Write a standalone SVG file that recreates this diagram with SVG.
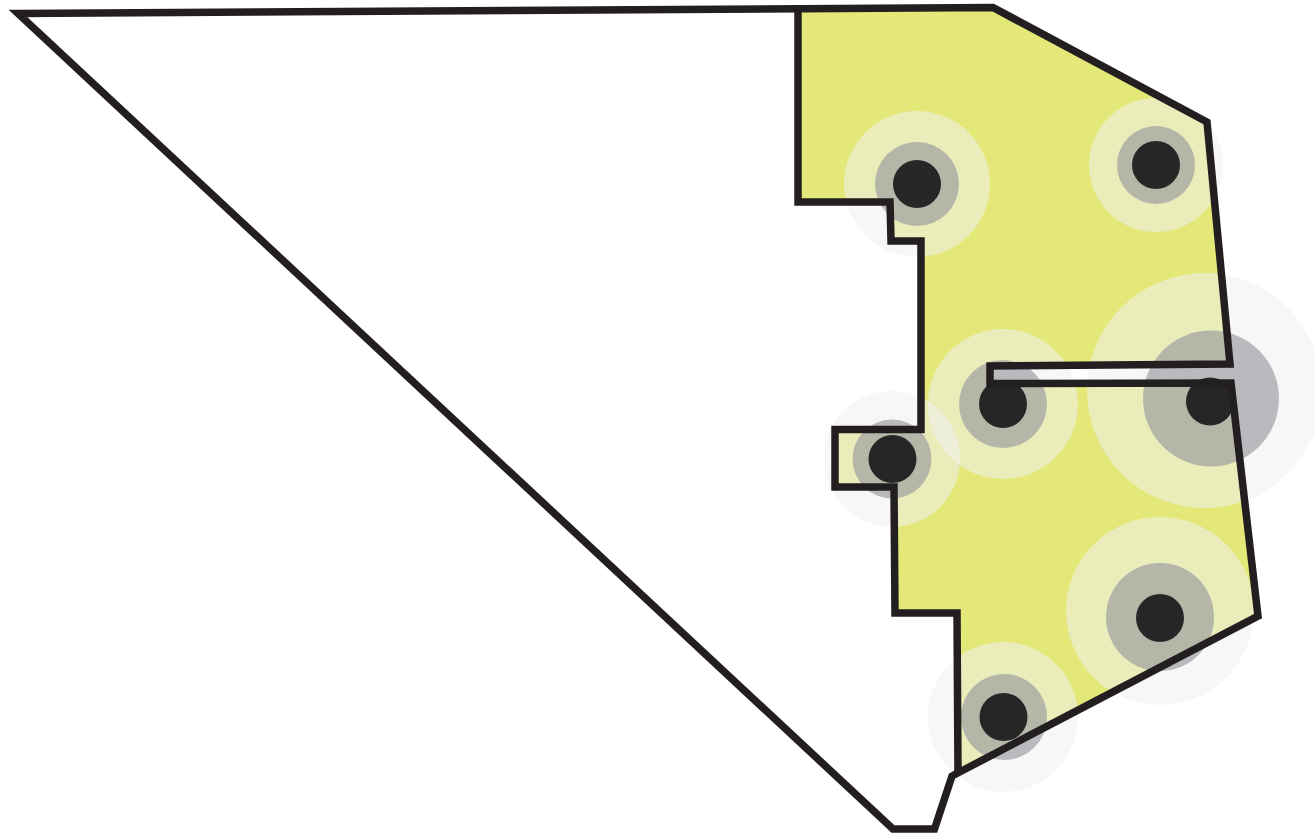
<svg xmlns="http://www.w3.org/2000/svg" width="1315" height="835" viewBox="0 0 1315 835">
  <style>
    .zone { fill: #e3e878; stroke: none; }
    .halo { fill: #f0f0f0; fill-opacity: 0.55; }
    .ring { fill: #999b9f; fill-opacity: 0.67; }
    .dot { fill: #262626; }
    .line { fill: none; stroke: #231f20; stroke-width: 7.5; stroke-linejoin: miter; stroke-miterlimit: 10; }
  </style>
  <rect x="0" y="0" width="1315" height="835" fill="#ffffff"/>
  <g id="yellow-zone">
    <polygon class="zone" points="798,9 993,7.5 1207,122 1230,364 990,366 990,383.5 1231,383 1258,616 958,772 957,613 895,613 894,487 835,487 835,429.5 921,429.5 921,241 891,241 890,202 798,202"/>
  </g>
  <g id="halos">
    <circle class="halo" cx="917" cy="184" r="73"/>
    <circle class="halo" cx="1156" cy="165" r="67"/>
    <circle class="halo" cx="1003" cy="404" r="75"/>
    <circle class="halo" cx="1204.5" cy="390.5" r="117.5"/>
    <circle class="halo" cx="892" cy="459" r="68"/>
    <circle class="halo" cx="1160" cy="611" r="94"/>
    <circle class="halo" cx="1003" cy="717" r="75"/>
  </g>
  <g id="rings">
    <circle class="ring" cx="917" cy="184" r="42"/>
    <circle class="ring" cx="1156" cy="165" r="39"/>
    <circle class="ring" cx="1003" cy="404" r="44"/>
    <circle class="ring" cx="1211" cy="398.5" r="68"/>
    <circle class="ring" cx="892" cy="459" r="39.5"/>
    <circle class="ring" cx="1160" cy="617" r="54"/>
    <circle class="ring" cx="1004" cy="717" r="43"/>
  </g>
  <g id="dots">
    <circle class="dot" cx="917" cy="184" r="24"/>
    <circle class="dot" cx="1156" cy="165" r="24"/>
    <circle class="dot" cx="1003" cy="404" r="24"/>
    <circle class="dot" cx="1210" cy="401.5" r="24"/>
    <circle class="dot" cx="892.5" cy="459" r="24"/>
    <circle class="dot" cx="1160" cy="618" r="24"/>
    <circle class="dot" cx="1003.5" cy="717" r="24"/>
  </g>
  <g id="outlines">
    <polygon class="line" points="18,13.5 993,7.5 1207,122 1230,364 990,366 990,383.5 1231,383 1258,616 952,776 934.5,829 893,829"/>
    <polyline class="line" points="798,9 798,202 890,202 891,241 921,241 921,429.5 835,429.5 835,487 894,487 895,613 957,613 958,772"/>
  </g>
</svg>
